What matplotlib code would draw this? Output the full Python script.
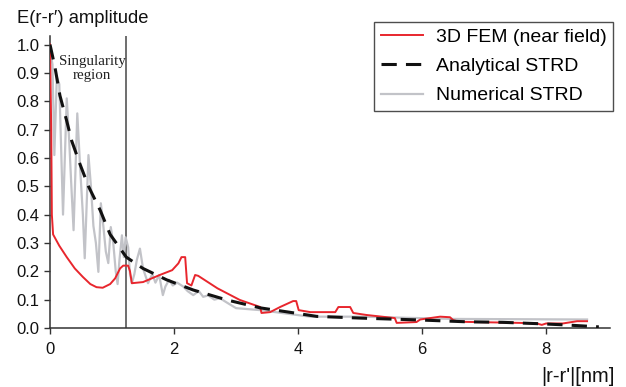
import numpy as np
import matplotlib
matplotlib.use("Agg")
from matplotlib import pyplot as plt

# 3D FEM (near field)
fem_x = [0, 0.02, 0.03, 0.05, 0.15, 0.27, 0.4, 0.53, 0.65, 0.75, 0.85, 0.97, 1.05, 1.13, 1.18,
         1.26, 1.29, 1.32, 1.5, 1.77, 1.97, 2.07, 2.12, 2.18, 2.21, 2.28, 2.34, 2.39, 2.7, 3.06,
         3.39, 3.41, 3.55, 3.71, 3.92, 3.97, 4.01, 4.2, 4.6, 4.65, 4.84, 4.89, 5.1, 5.56, 5.59,
         5.91, 5.97, 6.29, 6.45, 6.5, 6.6, 7.58, 7.85, 7.93, 8.0, 8.27, 8.5, 8.66]
fem_y = [1.0, 0.7, 0.40, 0.33, 0.29, 0.25, 0.21, 0.18, 0.155, 0.144, 0.142, 0.155, 0.175, 0.21, 0.22,
         0.22, 0.20, 0.158, 0.162, 0.187, 0.204, 0.228, 0.25, 0.25, 0.158, 0.15, 0.187, 0.184, 0.14, 0.099,
         0.074, 0.053, 0.056, 0.074, 0.095, 0.095, 0.063, 0.056, 0.056, 0.074, 0.074, 0.053, 0.046, 0.035, 0.018,
         0.021, 0.03, 0.04, 0.038, 0.028, 0.022, 0.018, 0.016, 0.011, 0.016, 0.016, 0.024, 0.024]

# Analytical STRD
ana_x = [0, 0.08, 0.16, 0.27, 0.35, 0.48, 0.62, 0.81, 0.97, 1.23, 1.5, 1.88, 2.31, 2.85, 3.39,
         3.82, 4.3, 5.0, 6.0, 6.7, 7.3, 7.9, 8.3, 8.85]
ana_y = [1.0, 0.92, 0.82, 0.73, 0.66, 0.58, 0.50, 0.415, 0.33, 0.25, 0.21, 0.17, 0.134, 0.099, 0.071,
         0.057, 0.041, 0.035, 0.028, 0.022, 0.02, 0.015, 0.011, 0.004]

# Numerical STRD
num_x = [0, 0.04, 0.07, 0.11, 0.15, 0.21, 0.27, 0.31, 0.34, 0.38, 0.44, 0.49, 0.53, 0.56, 0.62,
         0.66, 0.70, 0.74, 0.78, 0.82, 0.86, 0.90, 0.94, 0.98, 1.02, 1.06, 1.09, 1.12, 1.16, 1.19,
         1.22, 1.26, 1.29, 1.32, 1.36, 1.40, 1.45, 1.50, 1.58, 1.65, 1.70, 1.76, 1.82, 1.86, 1.92,
         1.98, 2.05, 2.15, 2.22, 2.31, 2.4, 2.47, 2.55, 2.65, 2.74, 2.85, 3.0, 3.39, 4.19, 5.0,
         6.5, 8.66]
num_y = [0.98, 0.93, 0.61, 0.885, 0.86, 0.40, 0.81, 0.66, 0.52, 0.345, 0.757, 0.55, 0.40, 0.246, 0.61,
         0.50, 0.36, 0.30, 0.198, 0.44, 0.36, 0.27, 0.229, 0.356, 0.30, 0.20, 0.155, 0.24, 0.327, 0.25,
         0.32, 0.285, 0.19, 0.158, 0.19, 0.24, 0.28, 0.21, 0.158, 0.19, 0.16, 0.187, 0.116, 0.146, 0.17,
         0.15, 0.16, 0.146, 0.13, 0.116, 0.13, 0.11, 0.115, 0.1, 0.105, 0.09, 0.07, 0.063, 0.04, 0.04,
         0.032, 0.03]

singular_x = 1.23
x_ticks = [0, 2, 4, 6, 8]
y_ticks = [0.0, 0.1, 0.2, 0.3, 0.4, 0.5, 0.6, 0.7, 0.8, 0.9, 1.0]

plt.rcParams['font.family'] = ['Liberation Sans', 'DejaVu Sans']

fig = plt.figure(figsize=(6.26, 3.87), dpi=100)
ax = fig.add_axes([50/626, 1-328/387, 560/626, 292/387])

ax.plot(num_x, num_y, color='#c2c3c8', lw=1.6, label='Numerical STRD', zorder=2)
ax.plot(fem_x, fem_y, color='#e8262d', lw=1.4, label='3D FEM (near field)', zorder=3)
ax.plot(ana_x, ana_y, color='#111111', lw=2.2, dashes=(5, 3), label='Analytical STRD', zorder=4)
ax.axvline(singular_x, color='#555555', lw=1.2, zorder=1)

ax.text(0.68, 0.915, 'Singularity\nregion', family='Liberation Serif', fontsize=10.8,
        ha='center', va='center', linespacing=1.05, color='#222222')

ax.set_xlim(0, 9.03)
ax.set_ylim(0, 1.03)
ax.set_xticks(x_ticks)
ax.set_yticks(y_ticks)
ax.set_yticklabels(['%.1f' % v for v in y_ticks])
for s in ['top', 'right']:
    ax.spines[s].set_visible(False)
for s in ['left', 'bottom']:
    ax.spines[s].set_color('#333333')
    ax.spines[s].set_linewidth(1.1)
ax.tick_params(direction='out', length=4, width=1, colors='#333333', labelsize=12,
               labelcolor='#111111')
ax.tick_params(axis='x', pad=6)

handles, labels = ax.get_legend_handles_labels()
order = [1, 2, 0]
leg = ax.legend([handles[i] for i in order], [labels[i] for i in order],
                loc='upper right', bbox_to_anchor=(613/626, 1-22/387),
                bbox_transform=fig.transFigure, fontsize=14, frameon=True,
                fancybox=False, edgecolor='#222222', borderaxespad=0,
                handlelength=2.2, handletextpad=0.65, labelspacing=0.6, borderpad=0.32)
leg.get_frame().set_linewidth(1.0)

fig.text(17/626, 1-23/387, 'E(r-r\u2032) amplitude', fontsize=13.2, va='baseline', color='#111111')
fig.text(615/626, 5/387, "|r-r'|[nm]", fontsize=14.5, ha='right', va='baseline', color='#111111')

plt.savefig('out.png', dpi=100)
